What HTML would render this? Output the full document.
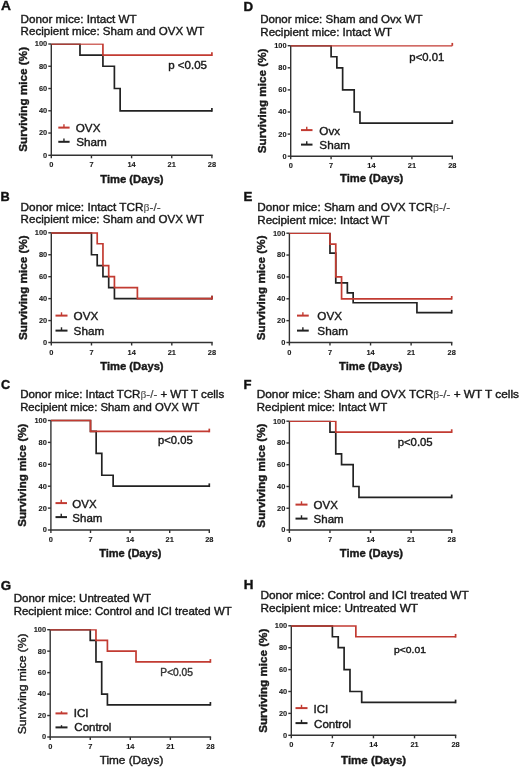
<!DOCTYPE html>
<html><head><meta charset="utf-8"><style>
html,body{margin:0;padding:0;background:#fff;}
svg{display:block;will-change:transform;}
text{font-family:"Liberation Sans",sans-serif;stroke:#1a1a1a;stroke-width:0.4px;stroke-linejoin:round;}
.tk{stroke-width:0.1px;}
.beta{font-family:"Liberation Serif",serif;fill:#555;stroke:#555;stroke-width:0.15px;}
.lt{fill:#444;stroke:#444;stroke-width:0.2px;}
</style></head><body>
<svg width="520" height="768" viewBox="0 0 520 768">
<defs><filter id="bl" x="-5%" y="-5%" width="110%" height="110%"><feGaussianBlur stdDeviation="0.4"/></filter></defs>
<rect width="520" height="768" fill="#fff"/>
<g filter="url(#bl)">
<text x="1.02" y="10.20" style="font-size:13px;font-weight:bold;fill:#111" textLength="9.92" lengthAdjust="spacingAndGlyphs">A</text>
<text x="20.62" y="22.70" style="font-size:11.2px;fill:#1a1a1a" textLength="116.04" lengthAdjust="spacingAndGlyphs">Donor mice: Intact WT</text>
<text x="20.62" y="35.00" style="font-size:11.2px;fill:#1a1a1a" textLength="183.80" lengthAdjust="spacingAndGlyphs">Recipient mice: Sham and OVX WT</text>
<line x1="51.30" y1="44.00" x2="51.30" y2="158.30" stroke="#333333" stroke-width="1.4"/>
<line x1="50.60" y1="155.30" x2="212.60" y2="155.30" stroke="#333333" stroke-width="1.4"/>
<line x1="48.30" y1="155.30" x2="51.30" y2="155.30" stroke="#333333" stroke-width="1.4"/>
<line x1="48.30" y1="133.04" x2="51.30" y2="133.04" stroke="#333333" stroke-width="1.4"/>
<line x1="48.30" y1="110.78" x2="51.30" y2="110.78" stroke="#333333" stroke-width="1.4"/>
<line x1="48.30" y1="88.52" x2="51.30" y2="88.52" stroke="#333333" stroke-width="1.4"/>
<line x1="48.30" y1="66.26" x2="51.30" y2="66.26" stroke="#333333" stroke-width="1.4"/>
<line x1="48.30" y1="44.00" x2="51.30" y2="44.00" stroke="#333333" stroke-width="1.4"/>
<line x1="91.45" y1="155.30" x2="91.45" y2="158.30" stroke="#333333" stroke-width="1.4"/>
<line x1="131.60" y1="155.30" x2="131.60" y2="158.30" stroke="#333333" stroke-width="1.4"/>
<line x1="171.75" y1="155.30" x2="171.75" y2="158.30" stroke="#333333" stroke-width="1.4"/>
<line x1="211.90" y1="155.30" x2="211.90" y2="158.30" stroke="#333333" stroke-width="1.4"/>
<text class="tk" x="47.20" y="157.70" text-anchor="end" style="font-size:8.0px;font-weight:bold;fill:#1a1a1a" textLength="4.14" lengthAdjust="spacingAndGlyphs">0</text>
<text class="tk" x="47.20" y="135.44" text-anchor="end" style="font-size:8.0px;font-weight:bold;fill:#1a1a1a" textLength="8.28" lengthAdjust="spacingAndGlyphs">20</text>
<text class="tk" x="47.20" y="113.18" text-anchor="end" style="font-size:8.0px;font-weight:bold;fill:#1a1a1a" textLength="8.28" lengthAdjust="spacingAndGlyphs">40</text>
<text class="tk" x="47.20" y="90.92" text-anchor="end" style="font-size:8.0px;font-weight:bold;fill:#1a1a1a" textLength="8.28" lengthAdjust="spacingAndGlyphs">60</text>
<text class="tk" x="47.20" y="68.66" text-anchor="end" style="font-size:8.0px;font-weight:bold;fill:#1a1a1a" textLength="8.28" lengthAdjust="spacingAndGlyphs">80</text>
<text class="tk" x="47.20" y="46.40" text-anchor="end" style="font-size:8.0px;font-weight:bold;fill:#1a1a1a" textLength="12.41" lengthAdjust="spacingAndGlyphs">100</text>
<text class="tk" x="51.30" y="167.30" text-anchor="middle" style="font-size:8.0px;font-weight:bold;fill:#1a1a1a" textLength="4.14" lengthAdjust="spacingAndGlyphs">0</text>
<text class="tk" x="91.45" y="167.30" text-anchor="middle" style="font-size:8.0px;font-weight:bold;fill:#1a1a1a" textLength="4.14" lengthAdjust="spacingAndGlyphs">7</text>
<text class="tk" x="131.60" y="167.30" text-anchor="middle" style="font-size:8.0px;font-weight:bold;fill:#1a1a1a" textLength="8.28" lengthAdjust="spacingAndGlyphs">14</text>
<text class="tk" x="171.75" y="167.30" text-anchor="middle" style="font-size:8.0px;font-weight:bold;fill:#1a1a1a" textLength="8.28" lengthAdjust="spacingAndGlyphs">21</text>
<text class="tk" x="211.90" y="167.30" text-anchor="middle" style="font-size:8.0px;font-weight:bold;fill:#1a1a1a" textLength="8.28" lengthAdjust="spacingAndGlyphs">28</text>
<text transform="translate(26.80,99.35) rotate(-90)" x="0" y="0" text-anchor="middle" style="font-size:11.8px;font-weight:bold;fill:#1a1a1a" textLength="104.80" lengthAdjust="spacingAndGlyphs">Surviving mice (%)</text>
<text x="100.29" y="182.50" style="font-size:11.7px;font-weight:bold;fill:#1a1a1a" textLength="63.32" lengthAdjust="spacingAndGlyphs">Time (Days)</text>
<clipPath id="c1"><rect x="47.30" y="43.50" width="168.60" height="115.30"/></clipPath>
<path d="M51.30,44.00 H79.98 V55.13 H102.92 V66.26 H114.39 V88.52 H120.13 V110.78 H211.90" fill="none" stroke="#222222" stroke-width="1.7" stroke-linejoin="miter" stroke-linecap="butt" clip-path="url(#c1)"/>
<path d="M211.90,111.63 V107.98" fill="none" stroke="#222222" stroke-width="1.7" stroke-linejoin="miter" stroke-linecap="butt"/>
<path d="M51.30,44.00 H102.92 V55.13 H211.90" fill="none" stroke="#c23a30" stroke-width="1.7" stroke-linejoin="miter" stroke-linecap="butt" clip-path="url(#c1)"/>
<path d="M211.90,55.98 V52.33" fill="none" stroke="#c23a30" stroke-width="1.7" stroke-linejoin="miter" stroke-linecap="butt"/>
<line x1="58.30" y1="127.60" x2="69.60" y2="127.60" stroke="#c23a30" stroke-width="2.0"/>
<line x1="63.95" y1="127.60" x2="63.95" y2="124.30" stroke="#c23a30" stroke-width="1.4"/>
<text x="75.77" y="132.00" style="font-size:11.2px;fill:#1a1a1a" textLength="24.68" lengthAdjust="spacingAndGlyphs">OVX</text>
<line x1="58.30" y1="141.80" x2="69.60" y2="141.80" stroke="#222222" stroke-width="2.0"/>
<line x1="63.95" y1="141.80" x2="63.95" y2="138.50" stroke="#222222" stroke-width="1.4"/>
<text x="76.17" y="145.50" style="font-size:11.2px;fill:#1a1a1a" textLength="30.58" lengthAdjust="spacingAndGlyphs">Sham</text>
<text x="168.25" y="68.50" style="font-size:11.0px;fill:#1a1a1a;stroke:#1a1a1a" textLength="38.70" lengthAdjust="spacingAndGlyphs">p &lt;0.05</text>
<text x="243.53" y="10.60" style="font-size:13px;font-weight:bold;fill:#111" textLength="9.63" lengthAdjust="spacingAndGlyphs">D</text>
<text x="260.28" y="22.90" style="font-size:11.2px;fill:#1a1a1a" textLength="162.36" lengthAdjust="spacingAndGlyphs">Donor mice: Sham and Ovx WT</text>
<text x="260.27" y="36.20" style="font-size:11.2px;fill:#1a1a1a" textLength="131.88" lengthAdjust="spacingAndGlyphs">Recipient mice: Intact WT</text>
<line x1="290.70" y1="45.70" x2="290.70" y2="159.20" stroke="#333333" stroke-width="1.4"/>
<line x1="290.00" y1="156.20" x2="453.00" y2="156.20" stroke="#333333" stroke-width="1.4"/>
<line x1="287.70" y1="156.20" x2="290.70" y2="156.20" stroke="#333333" stroke-width="1.4"/>
<line x1="287.70" y1="134.10" x2="290.70" y2="134.10" stroke="#333333" stroke-width="1.4"/>
<line x1="287.70" y1="112.00" x2="290.70" y2="112.00" stroke="#333333" stroke-width="1.4"/>
<line x1="287.70" y1="89.90" x2="290.70" y2="89.90" stroke="#333333" stroke-width="1.4"/>
<line x1="287.70" y1="67.80" x2="290.70" y2="67.80" stroke="#333333" stroke-width="1.4"/>
<line x1="287.70" y1="45.70" x2="290.70" y2="45.70" stroke="#333333" stroke-width="1.4"/>
<line x1="331.10" y1="156.20" x2="331.10" y2="159.20" stroke="#333333" stroke-width="1.4"/>
<line x1="371.50" y1="156.20" x2="371.50" y2="159.20" stroke="#333333" stroke-width="1.4"/>
<line x1="411.90" y1="156.20" x2="411.90" y2="159.20" stroke="#333333" stroke-width="1.4"/>
<line x1="452.30" y1="156.20" x2="452.30" y2="159.20" stroke="#333333" stroke-width="1.4"/>
<text class="tk" x="286.60" y="158.60" text-anchor="end" style="font-size:8.0px;font-weight:bold;fill:#1a1a1a" textLength="4.14" lengthAdjust="spacingAndGlyphs">0</text>
<text class="tk" x="286.60" y="136.50" text-anchor="end" style="font-size:8.0px;font-weight:bold;fill:#1a1a1a" textLength="8.28" lengthAdjust="spacingAndGlyphs">20</text>
<text class="tk" x="286.60" y="114.40" text-anchor="end" style="font-size:8.0px;font-weight:bold;fill:#1a1a1a" textLength="8.28" lengthAdjust="spacingAndGlyphs">40</text>
<text class="tk" x="286.60" y="92.30" text-anchor="end" style="font-size:8.0px;font-weight:bold;fill:#1a1a1a" textLength="8.28" lengthAdjust="spacingAndGlyphs">60</text>
<text class="tk" x="286.60" y="70.20" text-anchor="end" style="font-size:8.0px;font-weight:bold;fill:#1a1a1a" textLength="8.28" lengthAdjust="spacingAndGlyphs">80</text>
<text class="tk" x="286.60" y="48.10" text-anchor="end" style="font-size:8.0px;font-weight:bold;fill:#1a1a1a" textLength="12.41" lengthAdjust="spacingAndGlyphs">100</text>
<text class="tk" x="290.70" y="168.20" text-anchor="middle" style="font-size:8.0px;font-weight:bold;fill:#1a1a1a" textLength="4.14" lengthAdjust="spacingAndGlyphs">0</text>
<text class="tk" x="331.10" y="168.20" text-anchor="middle" style="font-size:8.0px;font-weight:bold;fill:#1a1a1a" textLength="4.14" lengthAdjust="spacingAndGlyphs">7</text>
<text class="tk" x="371.50" y="168.20" text-anchor="middle" style="font-size:8.0px;font-weight:bold;fill:#1a1a1a" textLength="8.28" lengthAdjust="spacingAndGlyphs">14</text>
<text class="tk" x="411.90" y="168.20" text-anchor="middle" style="font-size:8.0px;font-weight:bold;fill:#1a1a1a" textLength="8.28" lengthAdjust="spacingAndGlyphs">21</text>
<text class="tk" x="452.30" y="168.20" text-anchor="middle" style="font-size:8.0px;font-weight:bold;fill:#1a1a1a" textLength="8.28" lengthAdjust="spacingAndGlyphs">28</text>
<text transform="translate(266.20,100.95) rotate(-90)" x="0" y="0" text-anchor="middle" style="font-size:11.8px;font-weight:bold;fill:#1a1a1a" textLength="104.80" lengthAdjust="spacingAndGlyphs">Surviving mice (%)</text>
<text x="340.04" y="182.30" style="font-size:11.7px;font-weight:bold;fill:#1a1a1a" textLength="63.32" lengthAdjust="spacingAndGlyphs">Time (Days)</text>
<clipPath id="c2"><rect x="286.70" y="45.20" width="169.60" height="114.50"/></clipPath>
<path d="M290.70,45.70 H331.10 V56.75 H336.87 V67.80 H342.64 V89.90 H354.19 V112.00 H359.96 V123.05 H452.30" fill="none" stroke="#222222" stroke-width="1.7" stroke-linejoin="miter" stroke-linecap="butt" clip-path="url(#c2)"/>
<path d="M452.30,123.90 V120.25" fill="none" stroke="#222222" stroke-width="1.7" stroke-linejoin="miter" stroke-linecap="butt"/>
<path d="M290.70,45.70 H452.30" fill="none" stroke="#c23a30" stroke-width="1.7" stroke-linejoin="miter" stroke-linecap="butt" clip-path="url(#c2)"/>
<path d="M452.30,45.80 V42.90" fill="none" stroke="#c23a30" stroke-width="1.7" stroke-linejoin="miter" stroke-linecap="butt"/>
<line x1="301.00" y1="130.10" x2="312.50" y2="130.10" stroke="#c23a30" stroke-width="2.0"/>
<line x1="306.75" y1="130.10" x2="306.75" y2="126.80" stroke="#c23a30" stroke-width="1.4"/>
<text x="319.37" y="134.50" style="font-size:11.2px;fill:#1a1a1a" textLength="20.81" lengthAdjust="spacingAndGlyphs">Ovx</text>
<line x1="301.00" y1="144.60" x2="312.50" y2="144.60" stroke="#222222" stroke-width="2.0"/>
<line x1="306.75" y1="144.60" x2="306.75" y2="141.30" stroke="#222222" stroke-width="1.4"/>
<text x="319.37" y="149.00" style="font-size:11.2px;fill:#1a1a1a" textLength="30.58" lengthAdjust="spacingAndGlyphs">Sham</text>
<text x="409.36" y="60.50" style="font-size:11.0px;fill:#1a1a1a;stroke:#1a1a1a" textLength="34.96" lengthAdjust="spacingAndGlyphs">p&lt;0.01</text>
<text x="0.57" y="200.60" style="font-size:13px;font-weight:bold;fill:#111" textLength="9.23" lengthAdjust="spacingAndGlyphs">B</text>
<text x="20.61" y="211.10" style="font-size:11.2px;fill:#1a1a1a" textLength="140.00" lengthAdjust="spacingAndGlyphs">Donor mice: Intact TCR<tspan class="beta">β</tspan><tspan class="lt">-/-</tspan></text>
<text x="20.63" y="223.30" style="font-size:11.2px;fill:#1a1a1a" textLength="183.50" lengthAdjust="spacingAndGlyphs">Recipient mice: Sham and OVX WT</text>
<line x1="51.30" y1="232.80" x2="51.30" y2="345.50" stroke="#333333" stroke-width="1.4"/>
<line x1="50.60" y1="342.50" x2="212.70" y2="342.50" stroke="#333333" stroke-width="1.4"/>
<line x1="48.30" y1="342.50" x2="51.30" y2="342.50" stroke="#333333" stroke-width="1.4"/>
<line x1="48.30" y1="320.56" x2="51.30" y2="320.56" stroke="#333333" stroke-width="1.4"/>
<line x1="48.30" y1="298.62" x2="51.30" y2="298.62" stroke="#333333" stroke-width="1.4"/>
<line x1="48.30" y1="276.68" x2="51.30" y2="276.68" stroke="#333333" stroke-width="1.4"/>
<line x1="48.30" y1="254.74" x2="51.30" y2="254.74" stroke="#333333" stroke-width="1.4"/>
<line x1="48.30" y1="232.80" x2="51.30" y2="232.80" stroke="#333333" stroke-width="1.4"/>
<line x1="91.47" y1="342.50" x2="91.47" y2="345.50" stroke="#333333" stroke-width="1.4"/>
<line x1="131.65" y1="342.50" x2="131.65" y2="345.50" stroke="#333333" stroke-width="1.4"/>
<line x1="171.82" y1="342.50" x2="171.82" y2="345.50" stroke="#333333" stroke-width="1.4"/>
<line x1="212.00" y1="342.50" x2="212.00" y2="345.50" stroke="#333333" stroke-width="1.4"/>
<text class="tk" x="47.20" y="344.90" text-anchor="end" style="font-size:8.0px;font-weight:bold;fill:#1a1a1a" textLength="4.14" lengthAdjust="spacingAndGlyphs">0</text>
<text class="tk" x="47.20" y="322.96" text-anchor="end" style="font-size:8.0px;font-weight:bold;fill:#1a1a1a" textLength="8.28" lengthAdjust="spacingAndGlyphs">20</text>
<text class="tk" x="47.20" y="301.02" text-anchor="end" style="font-size:8.0px;font-weight:bold;fill:#1a1a1a" textLength="8.28" lengthAdjust="spacingAndGlyphs">40</text>
<text class="tk" x="47.20" y="279.08" text-anchor="end" style="font-size:8.0px;font-weight:bold;fill:#1a1a1a" textLength="8.28" lengthAdjust="spacingAndGlyphs">60</text>
<text class="tk" x="47.20" y="257.14" text-anchor="end" style="font-size:8.0px;font-weight:bold;fill:#1a1a1a" textLength="8.28" lengthAdjust="spacingAndGlyphs">80</text>
<text class="tk" x="47.20" y="235.20" text-anchor="end" style="font-size:8.0px;font-weight:bold;fill:#1a1a1a" textLength="12.41" lengthAdjust="spacingAndGlyphs">100</text>
<text class="tk" x="51.30" y="354.50" text-anchor="middle" style="font-size:8.0px;font-weight:bold;fill:#1a1a1a" textLength="4.14" lengthAdjust="spacingAndGlyphs">0</text>
<text class="tk" x="91.47" y="354.50" text-anchor="middle" style="font-size:8.0px;font-weight:bold;fill:#1a1a1a" textLength="4.14" lengthAdjust="spacingAndGlyphs">7</text>
<text class="tk" x="131.65" y="354.50" text-anchor="middle" style="font-size:8.0px;font-weight:bold;fill:#1a1a1a" textLength="8.28" lengthAdjust="spacingAndGlyphs">14</text>
<text class="tk" x="171.82" y="354.50" text-anchor="middle" style="font-size:8.0px;font-weight:bold;fill:#1a1a1a" textLength="8.28" lengthAdjust="spacingAndGlyphs">21</text>
<text class="tk" x="212.00" y="354.50" text-anchor="middle" style="font-size:8.0px;font-weight:bold;fill:#1a1a1a" textLength="8.28" lengthAdjust="spacingAndGlyphs">28</text>
<text transform="translate(26.80,287.65) rotate(-90)" x="0" y="0" text-anchor="middle" style="font-size:11.8px;font-weight:bold;fill:#1a1a1a" textLength="104.80" lengthAdjust="spacingAndGlyphs">Surviving mice (%)</text>
<text x="100.29" y="369.70" style="font-size:11.7px;font-weight:bold;fill:#1a1a1a" textLength="63.32" lengthAdjust="spacingAndGlyphs">Time (Days)</text>
<clipPath id="c3"><rect x="47.30" y="232.30" width="168.70" height="113.70"/></clipPath>
<path d="M51.30,232.80 H91.47 V254.74 H97.21 V265.71 H102.95 V276.68 H108.69 V287.65 H114.43 V298.62 H212.00" fill="none" stroke="#222222" stroke-width="1.7" stroke-linejoin="miter" stroke-linecap="butt" clip-path="url(#c3)"/>
<path d="M212.00,299.47 V295.82" fill="none" stroke="#222222" stroke-width="1.7" stroke-linejoin="miter" stroke-linecap="butt"/>
<path d="M51.30,232.80 H97.21 V243.77 H102.95 V265.71 H108.69 V276.68 H114.43 V287.65 H137.39 V298.62 H212.00" fill="none" stroke="#c23a30" stroke-width="1.7" stroke-linejoin="miter" stroke-linecap="butt" clip-path="url(#c3)"/>
<path d="M212.00,299.47 V295.82" fill="none" stroke="#c23a30" stroke-width="1.7" stroke-linejoin="miter" stroke-linecap="butt"/>
<line x1="55.50" y1="315.60" x2="67.50" y2="315.60" stroke="#c23a30" stroke-width="2.0"/>
<line x1="61.50" y1="315.60" x2="61.50" y2="312.30" stroke="#c23a30" stroke-width="1.4"/>
<text x="73.62" y="320.30" style="font-size:11.2px;fill:#1a1a1a" textLength="24.72" lengthAdjust="spacingAndGlyphs">OVX</text>
<line x1="55.50" y1="330.60" x2="67.50" y2="330.60" stroke="#222222" stroke-width="2.0"/>
<line x1="61.50" y1="330.60" x2="61.50" y2="327.30" stroke="#222222" stroke-width="1.4"/>
<text x="73.62" y="335.30" style="font-size:11.2px;fill:#1a1a1a" textLength="30.58" lengthAdjust="spacingAndGlyphs">Sham</text>
<text x="243.54" y="200.60" style="font-size:13px;font-weight:bold;fill:#111" textLength="8.85" lengthAdjust="spacingAndGlyphs">E</text>
<text x="257.26" y="211.10" style="font-size:11.2px;fill:#1a1a1a" textLength="192.82" lengthAdjust="spacingAndGlyphs">Donor mice: Sham and OVX TCR<tspan class="beta">β</tspan><tspan class="lt">-/-</tspan></text>
<text x="257.27" y="223.60" style="font-size:11.2px;fill:#1a1a1a" textLength="132.39" lengthAdjust="spacingAndGlyphs">Recipient mice: Intact WT</text>
<line x1="289.40" y1="233.20" x2="289.40" y2="345.50" stroke="#333333" stroke-width="1.4"/>
<line x1="288.70" y1="342.50" x2="452.40" y2="342.50" stroke="#333333" stroke-width="1.4"/>
<line x1="286.40" y1="342.50" x2="289.40" y2="342.50" stroke="#333333" stroke-width="1.4"/>
<line x1="286.40" y1="320.64" x2="289.40" y2="320.64" stroke="#333333" stroke-width="1.4"/>
<line x1="286.40" y1="298.78" x2="289.40" y2="298.78" stroke="#333333" stroke-width="1.4"/>
<line x1="286.40" y1="276.92" x2="289.40" y2="276.92" stroke="#333333" stroke-width="1.4"/>
<line x1="286.40" y1="255.06" x2="289.40" y2="255.06" stroke="#333333" stroke-width="1.4"/>
<line x1="286.40" y1="233.20" x2="289.40" y2="233.20" stroke="#333333" stroke-width="1.4"/>
<line x1="329.97" y1="342.50" x2="329.97" y2="345.50" stroke="#333333" stroke-width="1.4"/>
<line x1="370.55" y1="342.50" x2="370.55" y2="345.50" stroke="#333333" stroke-width="1.4"/>
<line x1="411.12" y1="342.50" x2="411.12" y2="345.50" stroke="#333333" stroke-width="1.4"/>
<line x1="451.70" y1="342.50" x2="451.70" y2="345.50" stroke="#333333" stroke-width="1.4"/>
<text class="tk" x="285.30" y="344.90" text-anchor="end" style="font-size:8.0px;font-weight:bold;fill:#1a1a1a" textLength="4.14" lengthAdjust="spacingAndGlyphs">0</text>
<text class="tk" x="285.30" y="323.04" text-anchor="end" style="font-size:8.0px;font-weight:bold;fill:#1a1a1a" textLength="8.28" lengthAdjust="spacingAndGlyphs">20</text>
<text class="tk" x="285.30" y="301.18" text-anchor="end" style="font-size:8.0px;font-weight:bold;fill:#1a1a1a" textLength="8.28" lengthAdjust="spacingAndGlyphs">40</text>
<text class="tk" x="285.30" y="279.32" text-anchor="end" style="font-size:8.0px;font-weight:bold;fill:#1a1a1a" textLength="8.28" lengthAdjust="spacingAndGlyphs">60</text>
<text class="tk" x="285.30" y="257.46" text-anchor="end" style="font-size:8.0px;font-weight:bold;fill:#1a1a1a" textLength="8.28" lengthAdjust="spacingAndGlyphs">80</text>
<text class="tk" x="285.30" y="235.60" text-anchor="end" style="font-size:8.0px;font-weight:bold;fill:#1a1a1a" textLength="12.41" lengthAdjust="spacingAndGlyphs">100</text>
<text class="tk" x="289.40" y="354.50" text-anchor="middle" style="font-size:8.0px;font-weight:bold;fill:#1a1a1a" textLength="4.14" lengthAdjust="spacingAndGlyphs">0</text>
<text class="tk" x="329.97" y="354.50" text-anchor="middle" style="font-size:8.0px;font-weight:bold;fill:#1a1a1a" textLength="4.14" lengthAdjust="spacingAndGlyphs">7</text>
<text class="tk" x="370.55" y="354.50" text-anchor="middle" style="font-size:8.0px;font-weight:bold;fill:#1a1a1a" textLength="8.28" lengthAdjust="spacingAndGlyphs">14</text>
<text class="tk" x="411.12" y="354.50" text-anchor="middle" style="font-size:8.0px;font-weight:bold;fill:#1a1a1a" textLength="8.28" lengthAdjust="spacingAndGlyphs">21</text>
<text class="tk" x="451.70" y="354.50" text-anchor="middle" style="font-size:8.0px;font-weight:bold;fill:#1a1a1a" textLength="8.28" lengthAdjust="spacingAndGlyphs">28</text>
<text transform="translate(264.90,287.85) rotate(-90)" x="0" y="0" text-anchor="middle" style="font-size:11.8px;font-weight:bold;fill:#1a1a1a" textLength="104.80" lengthAdjust="spacingAndGlyphs">Surviving mice (%)</text>
<text x="339.04" y="369.70" style="font-size:11.7px;font-weight:bold;fill:#1a1a1a" textLength="63.32" lengthAdjust="spacingAndGlyphs">Time (Days)</text>
<clipPath id="c4"><rect x="285.40" y="232.70" width="170.30" height="113.30"/></clipPath>
<path d="M289.40,233.20 H329.97 V253.07 H335.77 V282.88 H347.36 V292.82 H353.16 V302.76 H416.92 V312.69 H451.70" fill="none" stroke="#222222" stroke-width="1.7" stroke-linejoin="miter" stroke-linecap="butt" clip-path="url(#c4)"/>
<path d="M451.70,313.54 V309.89" fill="none" stroke="#222222" stroke-width="1.7" stroke-linejoin="miter" stroke-linecap="butt"/>
<path d="M289.40,233.20 H329.97 V244.13 H335.77 V276.92 H341.57 V298.78 H451.70" fill="none" stroke="#c23a30" stroke-width="1.7" stroke-linejoin="miter" stroke-linecap="butt" clip-path="url(#c4)"/>
<path d="M451.70,299.63 V295.98" fill="none" stroke="#c23a30" stroke-width="1.7" stroke-linejoin="miter" stroke-linecap="butt"/>
<line x1="297.00" y1="315.60" x2="308.75" y2="315.60" stroke="#c23a30" stroke-width="2.0"/>
<line x1="302.88" y1="315.60" x2="302.88" y2="312.30" stroke="#c23a30" stroke-width="1.4"/>
<text x="317.37" y="320.30" style="font-size:11.2px;fill:#1a1a1a" textLength="24.72" lengthAdjust="spacingAndGlyphs">OVX</text>
<line x1="297.00" y1="330.60" x2="308.75" y2="330.60" stroke="#222222" stroke-width="2.0"/>
<line x1="302.88" y1="330.60" x2="302.88" y2="327.30" stroke="#222222" stroke-width="1.4"/>
<text x="317.37" y="335.30" style="font-size:11.2px;fill:#1a1a1a" textLength="30.58" lengthAdjust="spacingAndGlyphs">Sham</text>
<text x="0.89" y="388.80" style="font-size:13px;font-weight:bold;fill:#111" textLength="9.15" lengthAdjust="spacingAndGlyphs">C</text>
<text x="20.18" y="397.90" style="font-size:10.9px;fill:#1a1a1a" textLength="204.03" lengthAdjust="spacingAndGlyphs">Donor mice: Intact TCR<tspan class="beta">β</tspan><tspan class="lt">-/-</tspan> + WT T cells</text>
<text x="20.20" y="411.10" style="font-size:10.9px;fill:#1a1a1a" textLength="179.23" lengthAdjust="spacingAndGlyphs">Recipient mice: Sham and OVX WT</text>
<line x1="50.90" y1="420.50" x2="50.90" y2="533.00" stroke="#333333" stroke-width="1.4"/>
<line x1="50.20" y1="530.00" x2="210.00" y2="530.00" stroke="#333333" stroke-width="1.4"/>
<line x1="47.90" y1="530.00" x2="50.90" y2="530.00" stroke="#333333" stroke-width="1.4"/>
<line x1="47.90" y1="508.10" x2="50.90" y2="508.10" stroke="#333333" stroke-width="1.4"/>
<line x1="47.90" y1="486.20" x2="50.90" y2="486.20" stroke="#333333" stroke-width="1.4"/>
<line x1="47.90" y1="464.30" x2="50.90" y2="464.30" stroke="#333333" stroke-width="1.4"/>
<line x1="47.90" y1="442.40" x2="50.90" y2="442.40" stroke="#333333" stroke-width="1.4"/>
<line x1="47.90" y1="420.50" x2="50.90" y2="420.50" stroke="#333333" stroke-width="1.4"/>
<line x1="90.50" y1="530.00" x2="90.50" y2="533.00" stroke="#333333" stroke-width="1.4"/>
<line x1="130.10" y1="530.00" x2="130.10" y2="533.00" stroke="#333333" stroke-width="1.4"/>
<line x1="169.70" y1="530.00" x2="169.70" y2="533.00" stroke="#333333" stroke-width="1.4"/>
<line x1="209.30" y1="530.00" x2="209.30" y2="533.00" stroke="#333333" stroke-width="1.4"/>
<text class="tk" x="46.80" y="532.40" text-anchor="end" style="font-size:8.0px;font-weight:bold;fill:#1a1a1a" textLength="4.14" lengthAdjust="spacingAndGlyphs">0</text>
<text class="tk" x="46.80" y="510.50" text-anchor="end" style="font-size:8.0px;font-weight:bold;fill:#1a1a1a" textLength="8.28" lengthAdjust="spacingAndGlyphs">20</text>
<text class="tk" x="46.80" y="488.60" text-anchor="end" style="font-size:8.0px;font-weight:bold;fill:#1a1a1a" textLength="8.28" lengthAdjust="spacingAndGlyphs">40</text>
<text class="tk" x="46.80" y="466.70" text-anchor="end" style="font-size:8.0px;font-weight:bold;fill:#1a1a1a" textLength="8.28" lengthAdjust="spacingAndGlyphs">60</text>
<text class="tk" x="46.80" y="444.80" text-anchor="end" style="font-size:8.0px;font-weight:bold;fill:#1a1a1a" textLength="8.28" lengthAdjust="spacingAndGlyphs">80</text>
<text class="tk" x="46.80" y="422.90" text-anchor="end" style="font-size:8.0px;font-weight:bold;fill:#1a1a1a" textLength="12.41" lengthAdjust="spacingAndGlyphs">100</text>
<text class="tk" x="50.90" y="542.00" text-anchor="middle" style="font-size:8.0px;font-weight:bold;fill:#1a1a1a" textLength="4.14" lengthAdjust="spacingAndGlyphs">0</text>
<text class="tk" x="90.50" y="542.00" text-anchor="middle" style="font-size:8.0px;font-weight:bold;fill:#1a1a1a" textLength="4.14" lengthAdjust="spacingAndGlyphs">7</text>
<text class="tk" x="130.10" y="542.00" text-anchor="middle" style="font-size:8.0px;font-weight:bold;fill:#1a1a1a" textLength="8.28" lengthAdjust="spacingAndGlyphs">14</text>
<text class="tk" x="169.70" y="542.00" text-anchor="middle" style="font-size:8.0px;font-weight:bold;fill:#1a1a1a" textLength="8.28" lengthAdjust="spacingAndGlyphs">21</text>
<text class="tk" x="209.30" y="542.00" text-anchor="middle" style="font-size:8.0px;font-weight:bold;fill:#1a1a1a" textLength="8.28" lengthAdjust="spacingAndGlyphs">28</text>
<text transform="translate(26.40,475.25) rotate(-90)" x="0" y="0" text-anchor="middle" style="font-size:11.7px;font-weight:bold;fill:#1a1a1a" textLength="103.09" lengthAdjust="spacingAndGlyphs">Surviving mice (%)</text>
<text x="99.14" y="557.00" style="font-size:11.6px;font-weight:bold;fill:#1a1a1a" textLength="62.31" lengthAdjust="spacingAndGlyphs">Time (Days)</text>
<clipPath id="c5"><rect x="46.90" y="418.50" width="166.40" height="113.50"/></clipPath>
<path d="M50.90,420.50 H90.50 V431.45 H96.16 V453.35 H101.81 V475.25 H113.13 V486.20 H209.30" fill="none" stroke="#222222" stroke-width="1.7" stroke-linejoin="miter" stroke-linecap="butt" clip-path="url(#c5)"/>
<path d="M209.30,487.05 V483.40" fill="none" stroke="#222222" stroke-width="1.7" stroke-linejoin="miter" stroke-linecap="butt"/>
<path d="M50.90,420.50 H90.50 V431.45 H209.30" fill="none" stroke="#c23a30" stroke-width="1.7" stroke-linejoin="miter" stroke-linecap="butt" clip-path="url(#c5)"/>
<path d="M209.30,432.30 V428.65" fill="none" stroke="#c23a30" stroke-width="1.7" stroke-linejoin="miter" stroke-linecap="butt"/>
<line x1="55.50" y1="503.10" x2="67.00" y2="503.10" stroke="#c23a30" stroke-width="2.0"/>
<line x1="61.25" y1="503.10" x2="61.25" y2="499.80" stroke="#c23a30" stroke-width="1.4"/>
<text x="72.38" y="507.80" style="font-size:11.0px;fill:#1a1a1a" textLength="24.28" lengthAdjust="spacingAndGlyphs">OVX</text>
<line x1="55.50" y1="517.10" x2="67.00" y2="517.10" stroke="#222222" stroke-width="2.0"/>
<line x1="61.25" y1="517.10" x2="61.25" y2="513.80" stroke="#222222" stroke-width="1.4"/>
<text x="72.38" y="521.50" style="font-size:11.0px;fill:#1a1a1a" textLength="30.03" lengthAdjust="spacingAndGlyphs">Sham</text>
<text x="157.97" y="443.80" style="font-size:10.8px;fill:#1a1a1a;stroke:#1a1a1a" textLength="34.70" lengthAdjust="spacingAndGlyphs">p&lt;0.05</text>
<text x="243.55" y="388.60" style="font-size:13px;font-weight:bold;fill:#111" textLength="8.03" lengthAdjust="spacingAndGlyphs">F</text>
<text x="256.76" y="398.10" style="font-size:10.9px;fill:#1a1a1a" textLength="262.24" lengthAdjust="spacingAndGlyphs">Donor mice: Sham and OVX TCR<tspan class="beta">β</tspan><tspan class="lt">-/-</tspan> + WT T cells</text>
<text x="256.78" y="410.60" style="font-size:10.9px;fill:#1a1a1a" textLength="130.37" lengthAdjust="spacingAndGlyphs">Recipient mice: Intact WT</text>
<line x1="289.40" y1="421.20" x2="289.40" y2="533.00" stroke="#333333" stroke-width="1.4"/>
<line x1="288.70" y1="530.00" x2="452.40" y2="530.00" stroke="#333333" stroke-width="1.4"/>
<line x1="286.40" y1="530.00" x2="289.40" y2="530.00" stroke="#333333" stroke-width="1.4"/>
<line x1="286.40" y1="508.24" x2="289.40" y2="508.24" stroke="#333333" stroke-width="1.4"/>
<line x1="286.40" y1="486.48" x2="289.40" y2="486.48" stroke="#333333" stroke-width="1.4"/>
<line x1="286.40" y1="464.72" x2="289.40" y2="464.72" stroke="#333333" stroke-width="1.4"/>
<line x1="286.40" y1="442.96" x2="289.40" y2="442.96" stroke="#333333" stroke-width="1.4"/>
<line x1="286.40" y1="421.20" x2="289.40" y2="421.20" stroke="#333333" stroke-width="1.4"/>
<line x1="329.97" y1="530.00" x2="329.97" y2="533.00" stroke="#333333" stroke-width="1.4"/>
<line x1="370.55" y1="530.00" x2="370.55" y2="533.00" stroke="#333333" stroke-width="1.4"/>
<line x1="411.12" y1="530.00" x2="411.12" y2="533.00" stroke="#333333" stroke-width="1.4"/>
<line x1="451.70" y1="530.00" x2="451.70" y2="533.00" stroke="#333333" stroke-width="1.4"/>
<text class="tk" x="285.30" y="532.40" text-anchor="end" style="font-size:8.0px;font-weight:bold;fill:#1a1a1a" textLength="4.14" lengthAdjust="spacingAndGlyphs">0</text>
<text class="tk" x="285.30" y="510.64" text-anchor="end" style="font-size:8.0px;font-weight:bold;fill:#1a1a1a" textLength="8.28" lengthAdjust="spacingAndGlyphs">20</text>
<text class="tk" x="285.30" y="488.88" text-anchor="end" style="font-size:8.0px;font-weight:bold;fill:#1a1a1a" textLength="8.28" lengthAdjust="spacingAndGlyphs">40</text>
<text class="tk" x="285.30" y="467.12" text-anchor="end" style="font-size:8.0px;font-weight:bold;fill:#1a1a1a" textLength="8.28" lengthAdjust="spacingAndGlyphs">60</text>
<text class="tk" x="285.30" y="445.36" text-anchor="end" style="font-size:8.0px;font-weight:bold;fill:#1a1a1a" textLength="8.28" lengthAdjust="spacingAndGlyphs">80</text>
<text class="tk" x="285.30" y="423.60" text-anchor="end" style="font-size:8.0px;font-weight:bold;fill:#1a1a1a" textLength="12.41" lengthAdjust="spacingAndGlyphs">100</text>
<text class="tk" x="289.40" y="542.00" text-anchor="middle" style="font-size:8.0px;font-weight:bold;fill:#1a1a1a" textLength="4.14" lengthAdjust="spacingAndGlyphs">0</text>
<text class="tk" x="329.97" y="542.00" text-anchor="middle" style="font-size:8.0px;font-weight:bold;fill:#1a1a1a" textLength="4.14" lengthAdjust="spacingAndGlyphs">7</text>
<text class="tk" x="370.55" y="542.00" text-anchor="middle" style="font-size:8.0px;font-weight:bold;fill:#1a1a1a" textLength="8.28" lengthAdjust="spacingAndGlyphs">14</text>
<text class="tk" x="411.12" y="542.00" text-anchor="middle" style="font-size:8.0px;font-weight:bold;fill:#1a1a1a" textLength="8.28" lengthAdjust="spacingAndGlyphs">21</text>
<text class="tk" x="451.70" y="542.00" text-anchor="middle" style="font-size:8.0px;font-weight:bold;fill:#1a1a1a" textLength="8.28" lengthAdjust="spacingAndGlyphs">28</text>
<text transform="translate(264.90,475.60) rotate(-90)" x="0" y="0" text-anchor="middle" style="font-size:11.7px;font-weight:bold;fill:#1a1a1a" textLength="104.09" lengthAdjust="spacingAndGlyphs">Surviving mice (%)</text>
<text x="339.79" y="557.20" style="font-size:11.6px;font-weight:bold;fill:#1a1a1a" textLength="63.32" lengthAdjust="spacingAndGlyphs">Time (Days)</text>
<clipPath id="c6"><rect x="285.40" y="420.70" width="170.30" height="112.80"/></clipPath>
<path d="M289.40,421.20 H329.97 V432.08 H335.77 V453.84 H341.57 V464.72 H353.16 V486.48 H358.96 V497.36 H451.70" fill="none" stroke="#222222" stroke-width="1.7" stroke-linejoin="miter" stroke-linecap="butt" clip-path="url(#c6)"/>
<path d="M451.70,498.21 V494.56" fill="none" stroke="#222222" stroke-width="1.7" stroke-linejoin="miter" stroke-linecap="butt"/>
<path d="M289.40,421.20 H335.77 V432.08 H451.70" fill="none" stroke="#c23a30" stroke-width="1.7" stroke-linejoin="miter" stroke-linecap="butt" clip-path="url(#c6)"/>
<path d="M451.70,432.93 V429.28" fill="none" stroke="#c23a30" stroke-width="1.7" stroke-linejoin="miter" stroke-linecap="butt"/>
<line x1="295.50" y1="504.60" x2="307.50" y2="504.60" stroke="#c23a30" stroke-width="2.0"/>
<line x1="301.50" y1="504.60" x2="301.50" y2="501.30" stroke="#c23a30" stroke-width="1.4"/>
<text x="313.63" y="509.00" style="font-size:11.0px;fill:#1a1a1a" textLength="24.28" lengthAdjust="spacingAndGlyphs">OVX</text>
<line x1="295.50" y1="518.60" x2="307.50" y2="518.60" stroke="#222222" stroke-width="2.0"/>
<line x1="301.50" y1="518.60" x2="301.50" y2="515.30" stroke="#222222" stroke-width="1.4"/>
<text x="313.63" y="522.75" style="font-size:11.0px;fill:#1a1a1a" textLength="30.03" lengthAdjust="spacingAndGlyphs">Sham</text>
<text x="397.66" y="445.80" style="font-size:10.8px;fill:#1a1a1a;stroke:#1a1a1a" textLength="35.01" lengthAdjust="spacingAndGlyphs">p&lt;0.05</text>
<text x="0.87" y="589.80" style="font-size:13px;font-weight:bold;fill:#111" textLength="10.37" lengthAdjust="spacingAndGlyphs">G</text>
<text x="13.68" y="602.40" style="font-size:10.9px;fill:#1a1a1a" textLength="137.29" lengthAdjust="spacingAndGlyphs">Donor mice: Untreated WT</text>
<text x="13.69" y="614.60" style="font-size:10.9px;fill:#1a1a1a" textLength="217.98" lengthAdjust="spacingAndGlyphs">Recipient mice: Control and ICI treated WT</text>
<line x1="50.20" y1="629.70" x2="50.20" y2="740.00" stroke="#333333" stroke-width="1.4"/>
<line x1="49.50" y1="737.00" x2="211.10" y2="737.00" stroke="#333333" stroke-width="1.4"/>
<line x1="47.20" y1="737.00" x2="50.20" y2="737.00" stroke="#333333" stroke-width="1.4"/>
<line x1="47.20" y1="715.54" x2="50.20" y2="715.54" stroke="#333333" stroke-width="1.4"/>
<line x1="47.20" y1="694.08" x2="50.20" y2="694.08" stroke="#333333" stroke-width="1.4"/>
<line x1="47.20" y1="672.62" x2="50.20" y2="672.62" stroke="#333333" stroke-width="1.4"/>
<line x1="47.20" y1="651.16" x2="50.20" y2="651.16" stroke="#333333" stroke-width="1.4"/>
<line x1="47.20" y1="629.70" x2="50.20" y2="629.70" stroke="#333333" stroke-width="1.4"/>
<line x1="90.25" y1="737.00" x2="90.25" y2="740.00" stroke="#333333" stroke-width="1.4"/>
<line x1="130.30" y1="737.00" x2="130.30" y2="740.00" stroke="#333333" stroke-width="1.4"/>
<line x1="170.35" y1="737.00" x2="170.35" y2="740.00" stroke="#333333" stroke-width="1.4"/>
<line x1="210.40" y1="737.00" x2="210.40" y2="740.00" stroke="#333333" stroke-width="1.4"/>
<text class="tk" x="46.10" y="739.40" text-anchor="end" style="font-size:8.0px;font-weight:bold;fill:#1a1a1a" textLength="4.14" lengthAdjust="spacingAndGlyphs">0</text>
<text class="tk" x="46.10" y="717.94" text-anchor="end" style="font-size:8.0px;font-weight:bold;fill:#1a1a1a" textLength="8.28" lengthAdjust="spacingAndGlyphs">20</text>
<text class="tk" x="46.10" y="696.48" text-anchor="end" style="font-size:8.0px;font-weight:bold;fill:#1a1a1a" textLength="8.28" lengthAdjust="spacingAndGlyphs">40</text>
<text class="tk" x="46.10" y="675.02" text-anchor="end" style="font-size:8.0px;font-weight:bold;fill:#1a1a1a" textLength="8.28" lengthAdjust="spacingAndGlyphs">60</text>
<text class="tk" x="46.10" y="653.56" text-anchor="end" style="font-size:8.0px;font-weight:bold;fill:#1a1a1a" textLength="8.28" lengthAdjust="spacingAndGlyphs">80</text>
<text class="tk" x="46.10" y="632.10" text-anchor="end" style="font-size:8.0px;font-weight:bold;fill:#1a1a1a" textLength="12.41" lengthAdjust="spacingAndGlyphs">100</text>
<text class="tk" x="50.20" y="749.00" text-anchor="middle" style="font-size:8.0px;font-weight:bold;fill:#1a1a1a" textLength="4.14" lengthAdjust="spacingAndGlyphs">0</text>
<text class="tk" x="90.25" y="749.00" text-anchor="middle" style="font-size:8.0px;font-weight:bold;fill:#1a1a1a" textLength="4.14" lengthAdjust="spacingAndGlyphs">7</text>
<text class="tk" x="130.30" y="749.00" text-anchor="middle" style="font-size:8.0px;font-weight:bold;fill:#1a1a1a" textLength="8.28" lengthAdjust="spacingAndGlyphs">14</text>
<text class="tk" x="170.35" y="749.00" text-anchor="middle" style="font-size:8.0px;font-weight:bold;fill:#1a1a1a" textLength="8.28" lengthAdjust="spacingAndGlyphs">21</text>
<text class="tk" x="210.40" y="749.00" text-anchor="middle" style="font-size:8.0px;font-weight:bold;fill:#1a1a1a" textLength="8.28" lengthAdjust="spacingAndGlyphs">28</text>
<text transform="translate(25.70,683.85) rotate(-90)" x="0" y="0" text-anchor="middle" style="font-size:11.7px;fill:#1a1a1a" textLength="100.83" lengthAdjust="spacingAndGlyphs">Surviving mice (%)</text>
<text x="99.66" y="764.00" style="font-size:11.3px;fill:#1a1a1a" textLength="63.67" lengthAdjust="spacingAndGlyphs">Time (Days)</text>
<clipPath id="c7"><rect x="46.20" y="629.20" width="168.20" height="111.30"/></clipPath>
<path d="M50.20,629.70 H90.25 V640.43 H95.97 V661.89 H101.69 V694.08 H107.41 V704.81 H210.40" fill="none" stroke="#222222" stroke-width="1.7" stroke-linejoin="miter" stroke-linecap="butt" clip-path="url(#c7)"/>
<path d="M210.40,705.66 V702.01" fill="none" stroke="#222222" stroke-width="1.7" stroke-linejoin="miter" stroke-linecap="butt"/>
<path d="M50.20,629.70 H95.97 V640.43 H107.41 V651.16 H136.02 V661.89 H210.40" fill="none" stroke="#c23a30" stroke-width="1.7" stroke-linejoin="miter" stroke-linecap="butt" clip-path="url(#c7)"/>
<path d="M210.40,662.74 V659.09" fill="none" stroke="#c23a30" stroke-width="1.7" stroke-linejoin="miter" stroke-linecap="butt"/>
<line x1="55.50" y1="713.40" x2="67.50" y2="713.40" stroke="#c23a30" stroke-width="2.0"/>
<line x1="61.50" y1="713.40" x2="61.50" y2="711.20" stroke="#c23a30" stroke-width="1.4"/>
<text x="73.87" y="717.00" style="font-size:11.0px;fill:#1a1a1a" textLength="14.69" lengthAdjust="spacingAndGlyphs">ICI</text>
<line x1="55.50" y1="727.40" x2="67.50" y2="727.40" stroke="#222222" stroke-width="2.0"/>
<line x1="61.50" y1="727.40" x2="61.50" y2="725.20" stroke="#222222" stroke-width="1.4"/>
<text x="74.33" y="731.00" style="font-size:11.0px;fill:#1a1a1a" textLength="37.06" lengthAdjust="spacingAndGlyphs">Control</text>
<text x="160.39" y="675.70" style="font-size:10.0px;fill:#333;stroke:#333" textLength="32.55" lengthAdjust="spacingAndGlyphs">P&lt;0.05</text>
<text x="243.83" y="588.80" style="font-size:13px;font-weight:bold;fill:#111" textLength="9.67" lengthAdjust="spacingAndGlyphs">H</text>
<text x="260.45" y="599.00" style="font-size:10.9px;fill:#1a1a1a" textLength="208.32" lengthAdjust="spacingAndGlyphs">Donor mice: Control and ICI treated WT</text>
<text x="260.45" y="612.00" style="font-size:10.9px;fill:#1a1a1a" textLength="157.62" lengthAdjust="spacingAndGlyphs">Recipient mice: Untreated WT</text>
<line x1="291.30" y1="625.80" x2="291.30" y2="738.30" stroke="#333333" stroke-width="1.4"/>
<line x1="290.60" y1="735.30" x2="456.30" y2="735.30" stroke="#333333" stroke-width="1.4"/>
<line x1="288.30" y1="735.30" x2="291.30" y2="735.30" stroke="#333333" stroke-width="1.4"/>
<line x1="288.30" y1="713.40" x2="291.30" y2="713.40" stroke="#333333" stroke-width="1.4"/>
<line x1="288.30" y1="691.50" x2="291.30" y2="691.50" stroke="#333333" stroke-width="1.4"/>
<line x1="288.30" y1="669.60" x2="291.30" y2="669.60" stroke="#333333" stroke-width="1.4"/>
<line x1="288.30" y1="647.70" x2="291.30" y2="647.70" stroke="#333333" stroke-width="1.4"/>
<line x1="288.30" y1="625.80" x2="291.30" y2="625.80" stroke="#333333" stroke-width="1.4"/>
<line x1="332.38" y1="735.30" x2="332.38" y2="738.30" stroke="#333333" stroke-width="1.4"/>
<line x1="373.45" y1="735.30" x2="373.45" y2="738.30" stroke="#333333" stroke-width="1.4"/>
<line x1="414.53" y1="735.30" x2="414.53" y2="738.30" stroke="#333333" stroke-width="1.4"/>
<line x1="455.60" y1="735.30" x2="455.60" y2="738.30" stroke="#333333" stroke-width="1.4"/>
<text class="tk" x="287.20" y="737.70" text-anchor="end" style="font-size:8.0px;font-weight:bold;fill:#1a1a1a" textLength="4.14" lengthAdjust="spacingAndGlyphs">0</text>
<text class="tk" x="287.20" y="715.80" text-anchor="end" style="font-size:8.0px;font-weight:bold;fill:#1a1a1a" textLength="8.28" lengthAdjust="spacingAndGlyphs">20</text>
<text class="tk" x="287.20" y="693.90" text-anchor="end" style="font-size:8.0px;font-weight:bold;fill:#1a1a1a" textLength="8.28" lengthAdjust="spacingAndGlyphs">40</text>
<text class="tk" x="287.20" y="672.00" text-anchor="end" style="font-size:8.0px;font-weight:bold;fill:#1a1a1a" textLength="8.28" lengthAdjust="spacingAndGlyphs">60</text>
<text class="tk" x="287.20" y="650.10" text-anchor="end" style="font-size:8.0px;font-weight:bold;fill:#1a1a1a" textLength="8.28" lengthAdjust="spacingAndGlyphs">80</text>
<text class="tk" x="287.20" y="628.20" text-anchor="end" style="font-size:8.0px;font-weight:bold;fill:#1a1a1a" textLength="12.41" lengthAdjust="spacingAndGlyphs">100</text>
<text class="tk" x="291.30" y="747.30" text-anchor="middle" style="font-size:8.0px;font-weight:bold;fill:#1a1a1a" textLength="4.14" lengthAdjust="spacingAndGlyphs">0</text>
<text class="tk" x="332.38" y="747.30" text-anchor="middle" style="font-size:8.0px;font-weight:bold;fill:#1a1a1a" textLength="4.14" lengthAdjust="spacingAndGlyphs">7</text>
<text class="tk" x="373.45" y="747.30" text-anchor="middle" style="font-size:8.0px;font-weight:bold;fill:#1a1a1a" textLength="8.28" lengthAdjust="spacingAndGlyphs">14</text>
<text class="tk" x="414.53" y="747.30" text-anchor="middle" style="font-size:8.0px;font-weight:bold;fill:#1a1a1a" textLength="8.28" lengthAdjust="spacingAndGlyphs">21</text>
<text class="tk" x="455.60" y="747.30" text-anchor="middle" style="font-size:8.0px;font-weight:bold;fill:#1a1a1a" textLength="8.28" lengthAdjust="spacingAndGlyphs">28</text>
<text transform="translate(266.80,680.75) rotate(-90)" x="0" y="0" text-anchor="middle" style="font-size:11.7px;font-weight:bold;fill:#1a1a1a" textLength="104.09" lengthAdjust="spacingAndGlyphs">Surviving mice (%)</text>
<text x="341.08" y="763.50" style="font-size:11.6px;font-weight:bold;fill:#1a1a1a" textLength="65.04" lengthAdjust="spacingAndGlyphs">Time (Days)</text>
<clipPath id="c8"><rect x="287.30" y="625.30" width="172.30" height="113.50"/></clipPath>
<path d="M291.30,625.80 H332.38 V636.75 H338.24 V647.70 H344.11 V669.60 H349.98 V691.50 H361.71 V702.45 H455.60" fill="none" stroke="#222222" stroke-width="1.7" stroke-linejoin="miter" stroke-linecap="butt" clip-path="url(#c8)"/>
<path d="M455.60,703.30 V699.65" fill="none" stroke="#222222" stroke-width="1.7" stroke-linejoin="miter" stroke-linecap="butt"/>
<path d="M291.30,625.80 H355.85 V636.75 H455.60" fill="none" stroke="#c23a30" stroke-width="1.7" stroke-linejoin="miter" stroke-linecap="butt" clip-path="url(#c8)"/>
<path d="M455.60,637.60 V633.95" fill="none" stroke="#c23a30" stroke-width="1.7" stroke-linejoin="miter" stroke-linecap="butt"/>
<line x1="295.50" y1="708.10" x2="307.50" y2="708.10" stroke="#c23a30" stroke-width="2.0"/>
<line x1="301.50" y1="708.10" x2="301.50" y2="704.80" stroke="#c23a30" stroke-width="1.4"/>
<text x="313.62" y="712.75" style="font-size:11.0px;fill:#1a1a1a" textLength="14.69" lengthAdjust="spacingAndGlyphs">ICI</text>
<line x1="295.50" y1="723.10" x2="307.50" y2="723.10" stroke="#222222" stroke-width="2.0"/>
<line x1="301.50" y1="723.10" x2="301.50" y2="719.80" stroke="#222222" stroke-width="1.4"/>
<text x="314.08" y="727.75" style="font-size:11.0px;fill:#1a1a1a" textLength="37.06" lengthAdjust="spacingAndGlyphs">Control</text>
<text x="394.03" y="652.50" style="font-size:9.6px;fill:#1a1a1a;stroke:#1a1a1a" textLength="31.95" lengthAdjust="spacingAndGlyphs">p&lt;0.01</text>
</g>
</svg>
</body></html>
